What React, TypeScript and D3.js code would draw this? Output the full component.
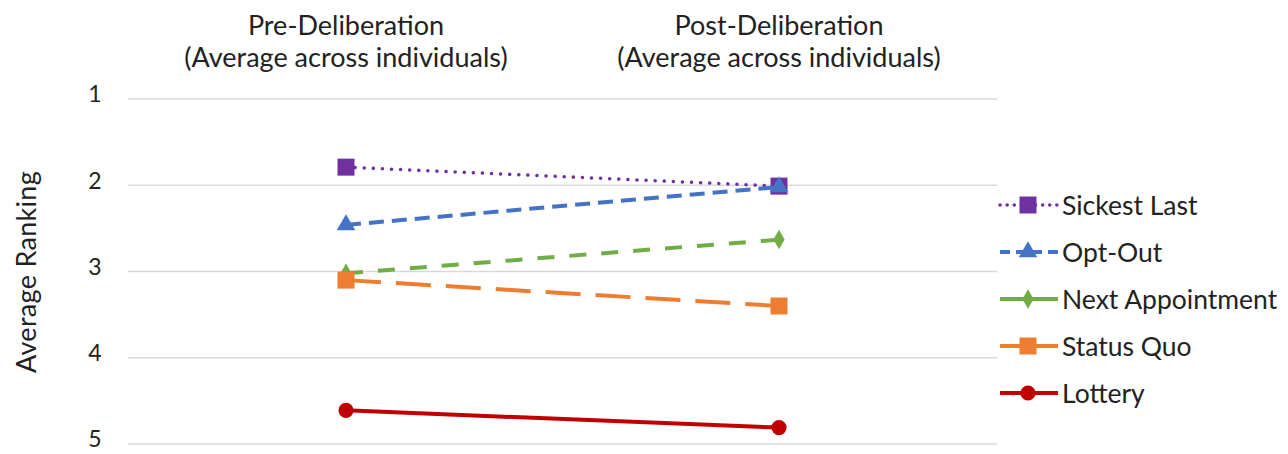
import React from "react";
import * as d3 from "d3";

const phases = ["Pre-Deliberation", "Post-Deliberation"];
const phaseSub = ["(Average across individuals)", "(Average across individuals)"];
const seriesNames = ["Sickest Last", "Opt-Out", "Next Appointment", "Status Quo", "Lottery"];
const sickestLast = [1.79, 2.01];
const optOut = [2.46, 2.02];
const nextAppointment = [3.02, 2.63];
const statusQuo = [3.1, 3.4];
const lottery = [4.61, 4.81];
const yTicks = [1, 2, 3, 4, 5];

const colors = ["#7030A0", "#4472C4", "#70AD47", "#ED7D31", "#C00000"];
const dashes = ["0.1 9", "15 8", "17 15", "35 15", ""];
const legendDashes = ["0.1 7", "10 6", "", "", ""];
const markers = ["square", "triangle", "diamond", "square", "circle"];

const W = 1288, H = 454;
const font = "Lato, 'Open Sans', sans-serif";

function Marker({ type, x, y, color }: { type: string; x: number; y: number; color: string }) {
  const symType =
    type === "square" ? d3.symbolSquare : type === "triangle" ? d3.symbolTriangle : type === "diamond" ? d3.symbolDiamond : d3.symbolCircle;
  const size = type === "square" ? 289 : type === "triangle" ? 150 : type === "diamond" ? 110 : 180;
  const p = d3.symbol().type(symType).size(size)() as string;
  return <path d={p} transform={`translate(${x},${y})`} fill={color} />;
}

export default function App() {
  const data = [sickestLast, optOut, nextAppointment, statusQuo, lottery];
  const x = d3.scalePoint<string>().domain(phases).range([346, 779]);
  const y = d3.scaleLinear().domain([1, 5]).range([99, 444]);
  const line = d3
    .line<number>()
    .x((_, i) => x(phases[i]) as number)
    .y((d) => y(d));
  const legendY = d3.scalePoint<string>().domain(seriesNames).range([205, 393]);

  return (
    <svg width={W} height={H} style={{ position: "absolute", left: 0, top: 0, background: "#fff" }}>
      {yTicks.map((t) => (
        <g key={t}>
          <line x1={128} x2={997} y1={y(t)} y2={y(t)} stroke="#d9d9d9" strokeWidth={1.5} />
          <text x={95} y={y(t)} dy="0.15em" textAnchor="middle" fontFamily={font} fontSize={23} fill="#222">
            {t}
          </text>
        </g>
      ))}
      {phases.map((p, i) => (
        <g key={p}>
          <text x={x(p)} y={35} textAnchor="middle" fontFamily={font} fontSize={27} fill="#222">
            {p}
          </text>
          <text x={x(p)} y={67} textAnchor="middle" fontFamily={font} fontSize={27} fill="#222">
            {phaseSub[i]}
          </text>
        </g>
      ))}
      <text
        transform={`translate(36,272) rotate(-90)`}
        textAnchor="middle"
        fontFamily={font}
        fontSize={27}
        fill="#222"
        letterSpacing={0.3}
      >
        Average Ranking
      </text>
      {data.map((vals, s) => (
        <g key={seriesNames[s]}>
          <path
            d={line(vals) as string}
            fill="none"
            stroke={colors[s]}
            strokeWidth={s === 0 ? 3.5 : 4}
            strokeDasharray={dashes[s] || undefined}
            strokeLinecap={s === 0 ? "round" : "butt"}
          />
          {vals.map((v, i) => (
            <Marker key={i} type={markers[s]} x={x(phases[i]) as number} y={y(v)} color={colors[s]} />
          ))}
        </g>
      ))}
      {seriesNames.map((n, s) => {
        const ly = legendY(n) as number;
        return (
          <g key={n}>
            <line
              x1={1000}
              x2={1058}
              y1={ly}
              y2={ly}
              stroke={colors[s]}
              strokeWidth={s === 0 ? 3.5 : 4}
              strokeDasharray={legendDashes[s] || undefined}
              strokeLinecap={s === 0 ? "round" : "butt"}
            />
            <Marker type={markers[s]} x={1028} y={ly} color={colors[s]} />
            <text x={1062} y={ly} dy="0.36em" fontFamily={font} fontSize={26.5} fill="#222">
              {n}
            </text>
          </g>
        );
      })}
    </svg>
  );
}
